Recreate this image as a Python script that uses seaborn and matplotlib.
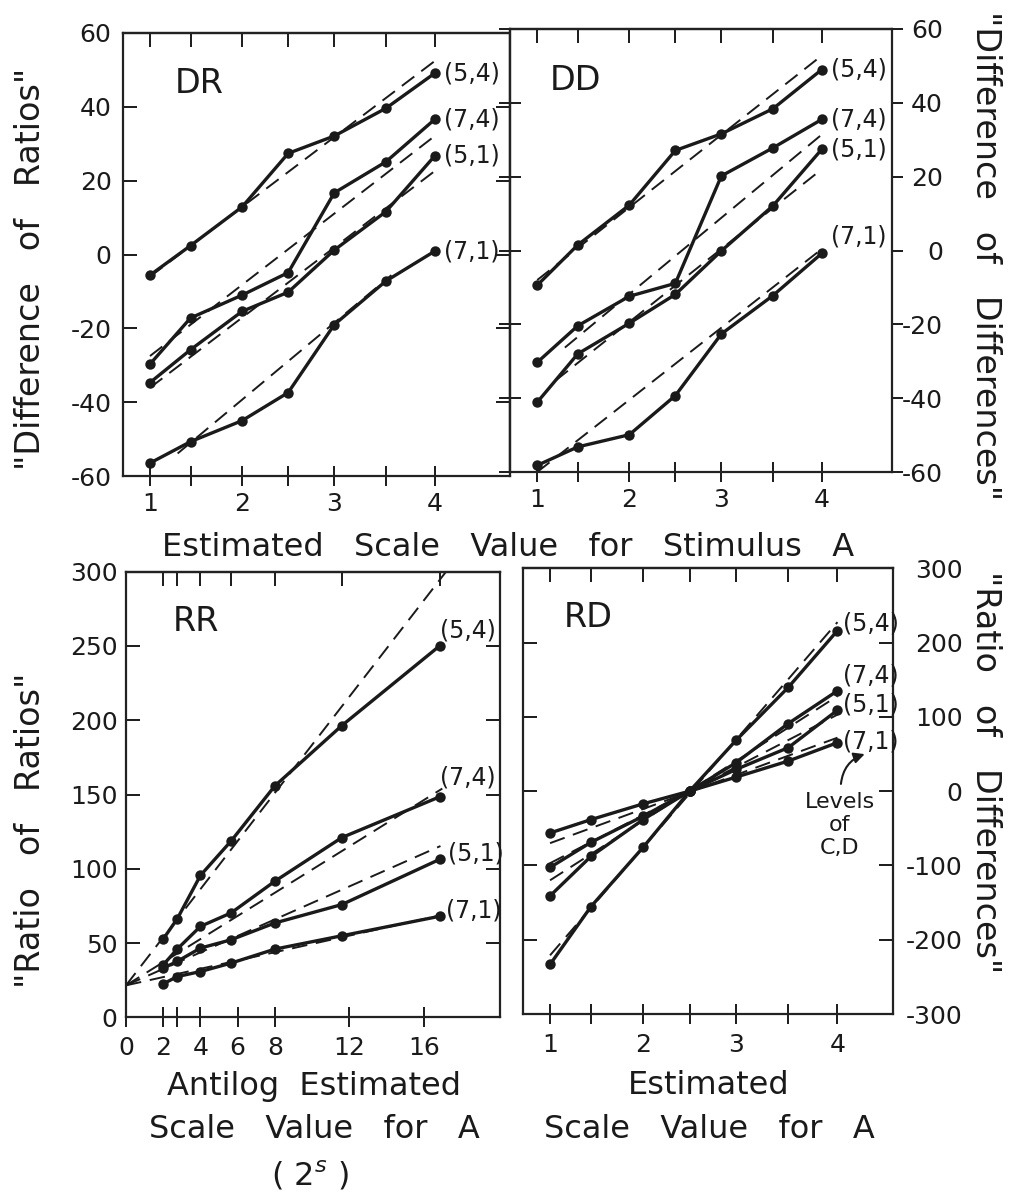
import matplotlib
matplotlib.use("Agg")
import matplotlib.pyplot as plt
import seaborn as sns
import pandas as pd

# ---------------- data ----------------
levels = ["(5,4)", "(7,4)", "(5,1)", "(7,1)"]
scale_s = [1.0, 1.44, 2.0, 2.5, 3.0, 3.56, 4.09]          # estimated scale value for A
antilog_s = [2.0, 2.75, 4.0, 5.65, 8.0, 11.6, 16.85]      # 2^s
s_tick_labels = ["1", "", "2", "", "3", "", "4"]
rr_ticks = [0, 2, 2.75, 4, 6, 8, 12, 16]
rr_tick_labels = ["0", "2", "", "4", "6", "8", "12", "16"]

# DR : "Difference of Ratios"
dr_54 = [-5.6, 2.4, 12.9, 27.4, 32.1, 39.6, 49.1]
dr_74 = [-29.7, -17.2, -11.0, -4.9, 16.7, 25.1, 36.6]
dr_51 = [-34.7, -25.8, -15.4, -10.2, 1.2, 11.6, 26.7]
dr_71 = [-56.5, -50.7, -45.0, -37.4, -19.0, -7.2, 0.9]
dr_fit_x0 = [1.0, 1.0, 1.0, 1.3]
dr_fit_x1 = [4.09, 4.09, 4.09, 3.62]
dr_fit_y0 = [-6.0, -27.5, -36.1, -53.9]
dr_fit_y1 = [52.4, 32.1, 22.6, -5.6]

# DD : "Difference of Differences"
dd_54 = [-9.4, 1.5, 12.3, 27.1, 31.6, 38.4, 49.0]
dd_74 = [-30.3, -20.4, -12.4, -8.9, 20.2, 27.8, 35.5]
dd_51 = [-41.1, -28.0, -19.7, -11.9, -0.1, 12.1, 27.4]
dd_71 = [-58.2, -53.2, -49.9, -39.3, -22.6, -12.2, -0.8]
dd_fit_x0 = [1.0, 1.3, 1.2, 1.0]
dd_fit_x1 = [4.09, 4.09, 4.09, 4.09]
dd_fit_y0 = [-8.0, -26.3, -35.2, -60.0]
dd_fit_y1 = [52.8, 31.4, 22.0, 0.4]

# RR : "Ratio of Ratios"
rr_54 = [52.7, 66.2, 95.5, 118.7, 155.8, 196.4, 250.0]
rr_74 = [35.3, 45.9, 61.2, 70.3, 91.6, 121.0, 148.4]
rr_51 = [33.1, 37.6, 46.6, 52.2, 63.5, 75.9, 106.3]
rr_71 = [22.5, 27.4, 30.8, 36.5, 45.9, 54.9, 68.0]
rr_fit_x0 = [0.0, 0.0, 0.0, 0.0]
rr_fit_x1 = [17.2, 17.0, 16.9, 16.85]
rr_fit_y0 = [21.5, 21.5, 21.5, 21.5]
rr_fit_y1 = [300.0, 154.0, 115.3, 68.5]

# RD : "Ratio of Differences"
rd_54 = [-233.3, -155.4, -75.7, 0.0, 68.5, 139.6, 216.2]
rd_74 = [-141.0, -87.8, -38.3, 0.0, 38.3, 91.0, 135.1]
rd_51 = [-102.7, -68.9, -33.8, 0.0, 29.3, 58.5, 109.0]
rd_71 = [-56.3, -38.3, -17.1, 0.0, 18.9, 40.5, 65.3]
rd_fit_x0 = [1.0, 1.0, 1.0, 1.0]
rd_fit_x1 = [4.09, 4.09, 4.09, 4.09]
rd_fit_y0 = [-221.0, -120.0, -97.0, -70.0]
rd_fit_y1 = [227.5, 128.0, 103.0, 72.0]

# ---------------- style ----------------
sns.set_style("white")
plt.rcParams["font.family"] = ["DejaVu Sans"]
plt.rcParams["axes.unicode_minus"] = False
plt.rcParams["axes.linewidth"] = 1.6
plt.rcParams["axes.edgecolor"] = "#222222"
INK = "#1a1a1a"
TS = 18      # tick label size
LS = 17      # curve label size
fs = 24      # axis title size

fig = plt.figure(figsize=(10.18, 11.96), dpi=100)
W, H = 1018.0, 1196.0


def box(l, t, r, b):
    return [l / W, 1 - b / H, (r - l) / W, (b - t) / H]


def panel(ax, xv, series, fx0, fx1, fy0, fy1, lab_off):
    for i, lev in enumerate(levels):
        fit = pd.DataFrame({"x": [fx0[i], fx1[i]], "y": [fy0[i], fy1[i]]})
        sns.lineplot(data=fit, x="x", y="y", ax=ax, color=INK, lw=1.4,
                     linestyle=(0, (8, 4.5)), sort=False)
        df = pd.DataFrame({"x": xv, "y": series[i]})
        sns.lineplot(data=df, x="x", y="y", ax=ax, color=INK, lw=2.4,
                     marker="o", markersize=7.5, markeredgewidth=0, sort=False)
        ax.annotate(lev, xy=(xv[-1], series[i][-1]), xytext=lab_off[i],
                    textcoords="offset points", ha="left", va="center",
                    fontsize=LS, color=INK)
    ax.set_xlabel("")
    ax.set_ylabel("")
    for sp in ax.spines.values():
        sp.set_visible(True)
        sp.set_color("#222222")


def xticks(ax, bottom_ticks, labels, top_ticks, pad):
    ax.set_xticks(bottom_ticks)
    ax.set_xticklabels(labels)
    ax.tick_params(axis="x", top=False, bottom=True, direction="inout",
                   length=15, width=1.4, labelsize=TS, pad=pad, colors=INK)
    sec = ax.secondary_xaxis("top")
    sec.set_xticks(top_ticks)
    sec.tick_params(axis="x", direction="in", length=10, width=1.4,
                    labeltop=False, colors=INK)
    sec.spines["top"].set_linewidth(1.6)


# DR
ax1 = fig.add_axes(box(122.7, 33, 510, 476))
panel(ax1, scale_s, [dr_54, dr_74, dr_51, dr_71], dr_fit_x0, dr_fit_x1,
      dr_fit_y0, dr_fit_y1, [(7, 0), (7, 0), (7, 0), (7, 0)])
ax1.set_xlim(0.704, 4.907)
ax1.set_ylim(-60, 60)
ax1.set_yticks([-60, -40, -20, 0, 20, 40, 60])
ax1.tick_params(axis="y", left=True, right=True, direction="in", length=10,
                width=1.4, labelsize=TS, pad=8, labelleft=True, labelright=False,
                colors=INK)
xticks(ax1, scale_s, s_tick_labels, scale_s, 4)
ax1.text(0.135, 0.887, "DR", transform=ax1.transAxes, fontsize=24,
         ha="left", va="center", color=INK)

# DD
ax2 = fig.add_axes(box(510, 29, 891.7, 472))
panel(ax2, scale_s, [dd_54, dd_74, dd_51, dd_71], dd_fit_x0, dd_fit_x1,
      dd_fit_y0, dd_fit_y1, [(7, 0), (7, 0), (7, 0), (7, 12)])
ax2.set_xlim(0.704, 4.85)
ax2.set_ylim(-60, 60)
ax2.set_yticks([-60, -40, -20, 0, 20, 40, 60])
ax2.tick_params(axis="y", left=False, right=True, direction="out", length=8,
                width=1.4, labelsize=TS, pad=29, labelleft=False, labelright=True,
                colors=INK)
for t in ax2.get_yticklabels():
    t.set_horizontalalignment("right")
secl = ax2.secondary_yaxis("left")
secl.set_yticks([-60, -40, -20, 0, 20, 40, 60])
secl.tick_params(axis="y", direction="inout", length=16, width=1.4,
                 labelleft=False, colors=INK)
xticks(ax2, scale_s, s_tick_labels, scale_s, 4)
ax2.text(0.105, 0.883, "DD", transform=ax2.transAxes, fontsize=24,
         ha="left", va="center", color=INK)

# RR
ax3 = fig.add_axes(box(126, 571.7, 500, 1017.3))
panel(ax3, antilog_s, [rr_54, rr_74, rr_51, rr_71], rr_fit_x0, rr_fit_x1,
      rr_fit_y0, rr_fit_y1, [(0, 11), (0, 14), (6, 4), (5, 4)])
ax3.set_xlim(0, 20.1)
ax3.set_ylim(0, 300)
ax3.set_yticks([0, 50, 100, 150, 200, 250, 300])
ax3.tick_params(axis="y", left=True, right=True, direction="in", length=10,
                width=1.4, labelsize=TS, pad=6, colors=INK)
xticks(ax3, rr_ticks, rr_tick_labels, antilog_s, 6)
ax3.text(0.126, 0.889, "RR", transform=ax3.transAxes, fontsize=24,
         ha="left", va="center", color=INK)

# RD
ax4 = fig.add_axes(box(522.7, 568.3, 893.3, 1014))
panel(ax4, scale_s, [rd_54, rd_74, rd_51, rd_71], rd_fit_x0, rd_fit_x1,
      rd_fit_y0, rd_fit_y1, [(4, 5), (4, 11), (4, 4), (4, 1)])
ax4.set_xlim(0.706, 4.69)
ax4.set_ylim(-300, 300)
ax4.set_yticks([-300, -200, -100, 0, 100, 200, 300])
ax4.tick_params(axis="y", left=True, right=True, direction="in", length=10,
                width=1.4, labelsize=TS, pad=50, labelleft=False, labelright=True,
                colors=INK)
for t in ax4.get_yticklabels():
    t.set_horizontalalignment("right")
xticks(ax4, scale_s, s_tick_labels, scale_s, 6)
ax4.text(0.11, 0.89, "RD", transform=ax4.transAxes, fontsize=24,
         ha="left", va="center", color=INK)
ax4.text(0.856, 0.424, "Levels\nof\nC,D", transform=ax4.transAxes, fontsize=16,
         ha="center", va="center", linespacing=1.2, color=INK)
ax4.annotate("", xy=(0.93, 0.585), xytext=(0.858, 0.51),
             xycoords="axes fraction", textcoords="axes fraction",
             arrowprops=dict(arrowstyle="-|>", color=INK, lw=1.5,
                             connectionstyle="arc3,rad=-0.35",
                             mutation_scale=16))

# ---------------- axis titles ----------------
fig.text(31 / W, 1 - 269 / H, "\"Difference   of   Ratios\"", rotation=90,
         ha="center", va="center", fontsize=fs, color=INK)
fig.text(985 / W, 1 - 256 / H, "\"Difference   of   Differences\"", rotation=-90,
         ha="center", va="center", fontsize=fs, color=INK)
fig.text(508 / W, 1 - 548 / H, "Estimated   Scale   Value   for   Stimulus   A",
         ha="center", va="center", fontsize=23, color=INK)
fig.text(31 / W, 1 - 830 / H, "\"Ratio   of   Ratios\"", rotation=90,
         ha="center", va="center", fontsize=fs, color=INK)
fig.text(985 / W, 1 - 772 / H, "\"Ratio   of   Differences\"", rotation=-90,
         ha="center", va="center", fontsize=fs, color=INK)
fig.text(314 / W, 1 - 1087 / H, "Antilog  Estimated", ha="center", va="center",
         fontsize=23, color=INK)
fig.text(314 / W, 1 - 1129 / H, "Scale   Value   for   A", ha="center",
         va="center", fontsize=23, color=INK)
fig.text(310 / W, 1 - 1176 / H, "( 2$^{s}$ )", ha="center", va="center",
         fontsize=23, color=INK)
fig.text(709 / W, 1 - 1085 / H, "Estimated", ha="center", va="center",
         fontsize=23, color=INK)
fig.text(709 / W, 1 - 1130 / H, "Scale   Value   for   A", ha="center",
         va="center", fontsize=23, color=INK)

fig.savefig("out.png", dpi=100, facecolor="white")
